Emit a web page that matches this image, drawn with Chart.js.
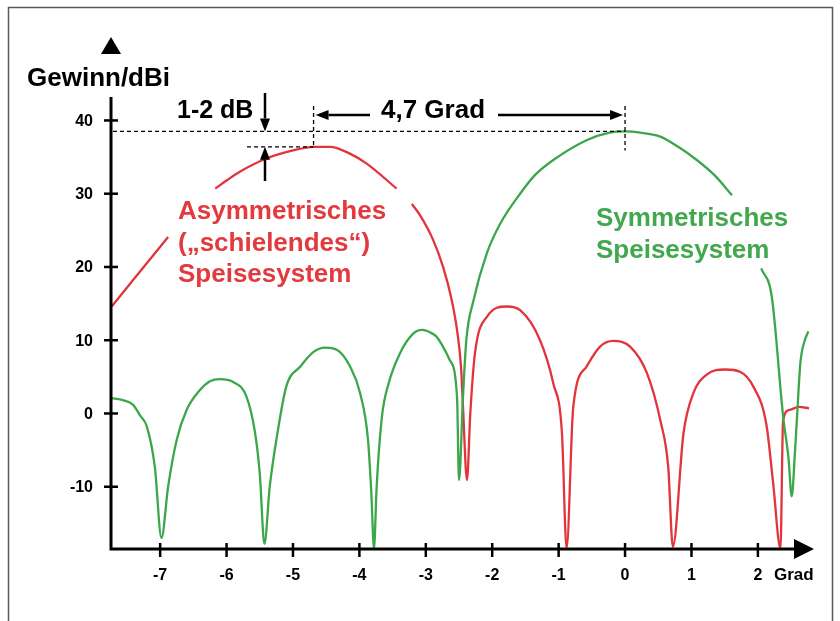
<!DOCTYPE html>
<html lang="de">
<head>
<meta charset="utf-8">
<title>Gewinn: symmetrisches und asymmetrisches Speisesystem</title>
<script src="https://cdn.jsdelivr.net/npm/chart.js@4.4.1/dist/chart.umd.min.js"></script>
<style>
  html, body { margin: 0; padding: 0; background: #fff; }
  canvas { display: block; }
</style>
</head>
<body>
<canvas id="gainChart" width="840" height="621"></canvas>
<script>
// Winkel in Grad, Gewinn in dBi  (null = Lücke für die Beschriftung)
const symX = [-7.74, -7.55, -7.41, -7.30, -7.20, -7.08, -6.98, -6.88, -6.75, -6.60, -6.40, -6.25, -6.10,
  -5.90, -5.70, -5.57, -5.50, -5.43, -5.35, -5.25, -5.10, -4.89, -4.69, -4.52, -4.34, -4.14, -3.99,
  -3.87, -3.82, -3.78, -3.74, -3.66, -3.56, -3.39, -3.19, -3.05, -2.92, -2.84, -2.64, -2.53, -2.50,
  -2.44, -2.39, -2.28, -2.08, -1.88, -1.58, -1.35, -1.08, -0.58, -0.25, 0.00, 0.25, 0.53, 0.80,
  1.08, 1.35, 1.61, 1.80, 2.05, 2.21, 2.38, 2.46, 2.51, 2.56, 2.59, 2.64, 2.70, 2.76];
const symY = [2.1, 1.8, 1.2, -0.3, -1.8, -7.3, -17.0, -10.0, -3.6, 0.5, 3.2, 4.4, 4.7,
  4.3, 2.3, -2.7, -8.2, -17.8, -10.0, -3.6, 3.7, 6.4, 8.4, 9.0, 8.7, 6.4, 2.8,
  -3.6, -10.9, -18.4, -10.0, -0.4, 4.1, 8.2, 10.9, 11.4, 11.0, 10.5, 7.3, 2.3, -9.1,
  2.3, 10.0, 15.5, 21.9, 25.9, 30.0, 32.6, 34.6, 37.3, 38.3, 38.5, 38.3, 37.8, 36.4,
  34.6, 32.5, 29.8, null, 19.8, 15.9, -0.4, -6.0, -11.3, -5.0, -0.4, 6.9, 9.8, 11.2];

const asymX = [-7.73, -6.88, -6.50, -6.17, -6.00, -5.80, -5.40, -5.00, -4.69, -4.44, -4.15, -3.89,
  -3.44, -3.30, -3.21, -3.09, -2.89, -2.74, -2.61, -2.53, -2.47, -2.44, -2.38, -2.33, -2.26,
  -2.08, -1.78, -1.58, -1.28, -1.08, -0.95, -0.88, -0.78, -0.58, -0.38, -0.18, 0.08, 0.33,
  0.53, 0.65, 0.72, 0.88, 1.03, 1.23, 1.51, 1.73, 1.93, 2.13, 2.23, 2.34, 2.38, 2.48, 2.62, 2.77];
const asymY = [14.6, 24.1, null, 30.7, 31.8, 33.0, 34.8, 35.9, 36.4, 36.4, 35.5, 34.1,
  30.7, null, 28.6, 27.1, 23.7, 20.0, 15.5, 11.4, 6.4, 0.9, -9.1, 0.0, 8.2,
  13.2, 14.6, 14.1, 10.0, 4.1, -2.7, -18.4, 0.9, 6.4, 9.1, 9.9, 9.1, 5.5,
  -0.9, -7.3, -18.2, -2.7, 2.8, 5.3, 6.0, 5.7, 3.7, -1.6, -9.5, -18.4, -0.9, 0.5, 0.9, 0.7];

const xTicks = [-7, -6, -5, -4, -3, -2, -1, 0, 1, 2];
const yTicks = [-10, 0, 10, 20, 30, 40];

const RED = "#e2343a";
const GREEN = "#3ca64a";
const FONT = '"Liberation Sans", Arial, Helvetica, sans-serif';

function toPoints(xs, ys) {
  return xs.map((x, i) => ({ x, y: ys[i] }));
}

function peakOf(xs, ys) {
  let best = 0;
  ys.forEach((v, i) => { if (v !== null && v > ys[best]) best = i; });
  return { x: xs[best], y: ys[best] };
}

function line(ctx, x1, y1, x2, y2) {
  ctx.beginPath();
  ctx.moveTo(x1, y1);
  ctx.lineTo(x2, y2);
  ctx.stroke();
}

function tri(ctx, p1, p2, p3) {
  ctx.beginPath();
  ctx.moveTo(p1[0], p1[1]);
  ctx.lineTo(p2[0], p2[1]);
  ctx.lineTo(p3[0], p3[1]);
  ctx.closePath();
  ctx.fill();
}

// Pfeil von (x1,y1) nach (x2,y2), Spitze am Ende
function arrow(ctx, x1, y1, x2, y2) {
  const ang = Math.atan2(y2 - y1, x2 - x1);
  const len = 13, half = 5;
  const bx = x2 - len * Math.cos(ang), by = y2 - len * Math.sin(ang);
  line(ctx, x1, y1, bx, by);
  tri(ctx, [x2, y2],
    [bx + half * Math.sin(ang), by - half * Math.cos(ang)],
    [bx - half * Math.sin(ang), by + half * Math.cos(ang)]);
}

const axesPlugin = {
  id: "axesAndNotes",
  afterDatasetsDraw(chart) {
    const { ctx, chartArea: a, scales: { x, y } } = chart;
    ctx.save();

    // Rahmen
    ctx.strokeStyle = "#5a5a5a";
    ctx.lineWidth = 1.5;
    ctx.strokeRect(8.5, 7.5, 824, 700);

    // Achsen
    ctx.strokeStyle = "#000";
    ctx.fillStyle = "#000";
    ctx.lineWidth = 3;
    ctx.beginPath();
    ctx.moveTo(a.left, a.top);
    ctx.lineTo(a.left, a.bottom);
    ctx.lineTo(a.right - 18, a.bottom);
    ctx.stroke();
    tri(ctx, [a.right + 1, a.bottom], [a.right - 19, a.bottom - 10], [a.right - 19, a.bottom + 10]);
    tri(ctx, [a.left, 37], [a.left - 10, 54], [a.left + 10, 54]);

    // Striche
    ctx.lineWidth = 2.5;
    yTicks.forEach(v => {
      const py = y.getPixelForValue(v);
      line(ctx, a.left - 7, py, a.left + 7, py);
    });
    xTicks.forEach(v => {
      const px = x.getPixelForValue(v);
      line(ctx, px, a.bottom - 6, px, a.bottom + 8);
    });

    // Beschriftung der Achsen
    ctx.font = "bold 16px " + FONT;
    ctx.textAlign = "right";
    ctx.textBaseline = "middle";
    yTicks.forEach(v => ctx.fillText(String(v), a.left - 18, y.getPixelForValue(v) + 1));
    ctx.textAlign = "center";
    ctx.textBaseline = "alphabetic";
    xTicks.forEach(v => ctx.fillText(String(v), x.getPixelForValue(v), 580));
    ctx.font = "bold 17px " + FONT;
    ctx.textAlign = "left";
    ctx.fillText("Grad", 774, 580);
    ctx.font = "bold 26px " + FONT;
    ctx.fillText("Gewinn/dBi", 27, 86);

    // Hilfslinien an den Maxima
    const pG = peakOf(symX, symY);
    const pR = peakOf(asymX, asymY);
    const gx = x.getPixelForValue(pG.x), gy = y.getPixelForValue(pG.y);
    const rx = x.getPixelForValue(pR.x), ry = y.getPixelForValue(pR.y);
    ctx.lineWidth = 1.3;
    ctx.setLineDash([4, 3]);
    line(ctx, a.left + 2, gy, gx, gy);
    line(ctx, gx, 106, gx, gy + 19);
    line(ctx, 247, ry, rx, ry);
    line(ctx, rx, 106, rx, ry);
    ctx.setLineDash([]);

    // Pfeile
    ctx.lineWidth = 2.5;
    arrow(ctx, 370, 115, rx + 2, 115);
    arrow(ctx, 498, 115, gx - 2, 115);
    arrow(ctx, 265, 93, 265, gy);
    arrow(ctx, 265, 181, 265, ry);

    ctx.font = "bold 25px " + FONT;
    ctx.fillText("1-2 dB", 177, 118);
    ctx.font = "bold 26px " + FONT;
    ctx.fillText("4,7 Grad", 381, 118);

    // Kurvenbeschriftung
    ctx.fillStyle = "#e23a3e";
    ctx.fillText("Asymmetrisches", 178, 219);
    ctx.fillText("(\u201Eschielendes\u201C)", 178, 251);
    ctx.fillText("Speisesystem", 178, 282);
    ctx.fillStyle = "#42a84e";
    ctx.fillText("Symmetrisches", 596, 226);
    ctx.fillText("Speisesystem", 596, 258);

    ctx.restore();
  }
};

new Chart(document.getElementById("gainChart"), {
  type: "line",
  data: {
    datasets: [
      {
        label: "Symmetrisches Speisesystem",
        data: toPoints(symX, symY),
        borderColor: GREEN,
        borderWidth: 2.3,
        pointRadius: 0,
        cubicInterpolationMode: "monotone",
        spanGaps: false
      },
      {
        label: "Asymmetrisches Speisesystem",
        data: toPoints(asymX, asymY),
        borderColor: RED,
        borderWidth: 2.3,
        pointRadius: 0,
        cubicInterpolationMode: "monotone",
        spanGaps: false
      }
    ]
  },
  options: {
    responsive: false,
    animation: false,
    layout: { padding: { left: 111, right: 27, top: 97, bottom: 72 } },
    plugins: { legend: { display: false }, tooltip: { enabled: false } },
    scales: {
      x: { type: "linear", min: -7.74, max: 2.83, display: false },
      y: { type: "linear", min: -18.5, max: 43.2, display: false }
    }
  },
  plugins: [axesPlugin]
});
</script>
</body>
</html>
